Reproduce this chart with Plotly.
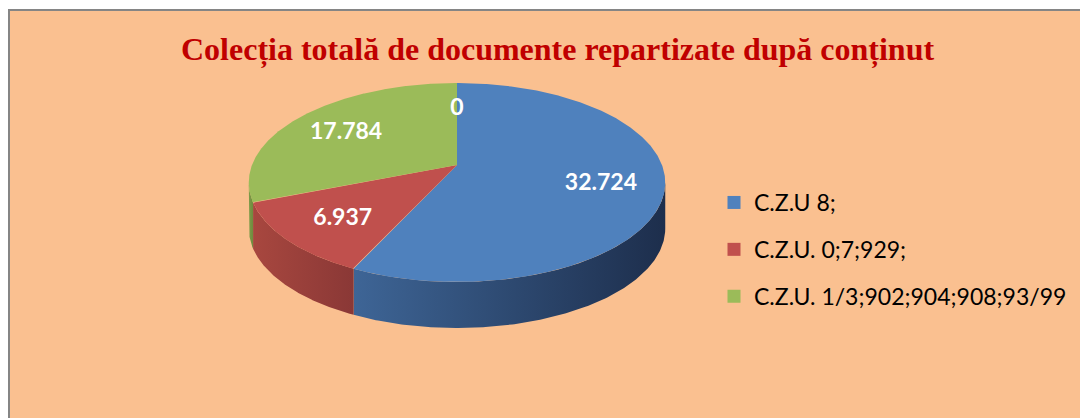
import numpy as np
import plotly.graph_objects as go

# ── data ──────────────────────────────────────────────────────────────────────
categories = ["C.Z.U 8;", "C.Z.U. 0;7;929;", "C.Z.U. 1/3;902;904;908;93/99", ""]
values = [32724, 6937, 17784, 0]
top_colors = ["#4F81BD", "#C0504D", "#9BBB59", "#8064A2"]
side_colors = [("#3E6596", "#1D2E4C"), ("#A8473F", "#8A3836"), ("#7E9C48", "#6F8A3E"), ("#5E4A7A", "#4A3A60")]

_BG = "#FAC090"
_W, _H = 1088, 418
_OFF = 8   # page body margin: figure sits 8px right/down in the browser

# perspective "3D" pie geometry (screen pixel units on hidden axes)
CX, CY = 457, 165     # projected centre
RX, RY = 205, 96.4    # horizontal / vertical radius factors
PERSP = 0.176         # far side shrink
DEPTH = 46            # thickness of the pie


def proj(theta_deg, r=1.0):
    t = np.radians(theta_deg)
    X, Z = r * np.sin(t), r * np.cos(t)
    f = 1.0 / (1.0 + PERSP * Z)
    return CX + RX * X * f, CY - RY * Z * f


def fmt(v):
    return f"{v:,}".replace(",", ".")


def px_x(p):   # screen px -> paper fraction
    return (p - _OFF) / _W


def px_y(p):
    return 1 - (p - _OFF) / _H


total = sum(values)
bounds = np.concatenate([[0], np.cumsum(values) / total * 360.0])

# front (visible) arc of the rim: between right-most and left-most points
th = np.linspace(0, 360, 3601)
xs, _ = proj(th)
th_right, th_left = th[np.argmax(xs)], th[np.argmin(xs)]

fig = go.Figure()

# side walls
for i, v in enumerate(values):
    a0, a1 = max(bounds[i], th_right), min(bounds[i + 1], th_left)
    if v == 0 or a1 <= a0:
        continue
    t = np.linspace(a0, a1, 200)
    x, y = proj(t)
    px = np.concatenate([x, x[::-1], [x[0]]])
    py = np.concatenate([y, y[::-1] + DEPTH, [y[0]]])
    fig.add_trace(go.Scatter(
        x=px, y=py, mode="lines", fill="toself",
        line=dict(width=0), showlegend=False, hoverinfo="skip",
        fillgradient=dict(type="horizontal",
                          colorscale=[[0, side_colors[i][0]], [1, side_colors[i][1]]]),
    ))

# top faces
for i, v in enumerate(values):
    if v == 0:
        continue
    t = np.linspace(bounds[i], bounds[i + 1], 400)
    x, y = proj(t)
    px = np.concatenate([[CX], x, [CX]])
    py = np.concatenate([[CY], y, [CY]])
    fig.add_trace(go.Scatter(
        x=px, y=py, mode="lines", fill="toself",
        fillcolor=top_colors[i], line=dict(width=0),
        showlegend=False, name=categories[i],
        hovertemplate=f"{categories[i]}: {fmt(v)}<extra></extra>",
    ))

# data labels (slightly below the geometric spot, as Excel does)
mids = (bounds[:-1] + bounds[1:]) / 2
mids = [m if values[i] else bounds[i] for i, m in enumerate(mids)]
lx, ly = proj(np.array(mids), 0.7)
fig.add_trace(go.Scatter(
    x=lx, y=ly + 4, mode="text", text=[fmt(v) for v in values],
    textfont=dict(family="Lato", size=23, color="white", weight="bold"),
    showlegend=False, hoverinfo="skip",
))

# legend entries
for i, c in enumerate(categories):
    if not c:
        continue
    fig.add_trace(go.Scatter(
        x=[None], y=[None], mode="markers", name=c, legendgroup=c,
        marker=dict(symbol="square", size=13, color=top_colors[i]),
    ))

fig.add_shape(type="rect", x0=9, y0=10, x1=_W + 20, y1=_H + 20,
              xref="x", yref="y", layer="below",
              fillcolor=_BG, line=dict(color="#858585", width=2))

fig.add_annotation(
    text="Colecția totală de documente repartizate după conținut",
    x=px_x(557), y=px_y(50), xref="paper", yref="paper",
    showarrow=False, xanchor="center", yanchor="middle",
    font=dict(family="Liberation Serif", size=32, color="#C00000", weight="bold"),
)

fig.update_layout(
    width=_W, height=_H,
    paper_bgcolor="white", plot_bgcolor="rgba(0,0,0,0)",
    margin=dict(l=0, r=0, t=0, b=0),
    xaxis=dict(range=[_OFF, _W + _OFF], visible=False, fixedrange=True),
    yaxis=dict(range=[_H + _OFF, _OFF], visible=False, fixedrange=True),
    showlegend=True,
    legend=dict(
        x=px_x(714), y=px_y(181), xanchor="left", yanchor="top",
        bgcolor="rgba(0,0,0,0)", traceorder="grouped", tracegroupgap=14,
        font=dict(family="Lato", size=23, color="black"),
        itemsizing="trace",
    ),
)

fig.write_html("out.html")
